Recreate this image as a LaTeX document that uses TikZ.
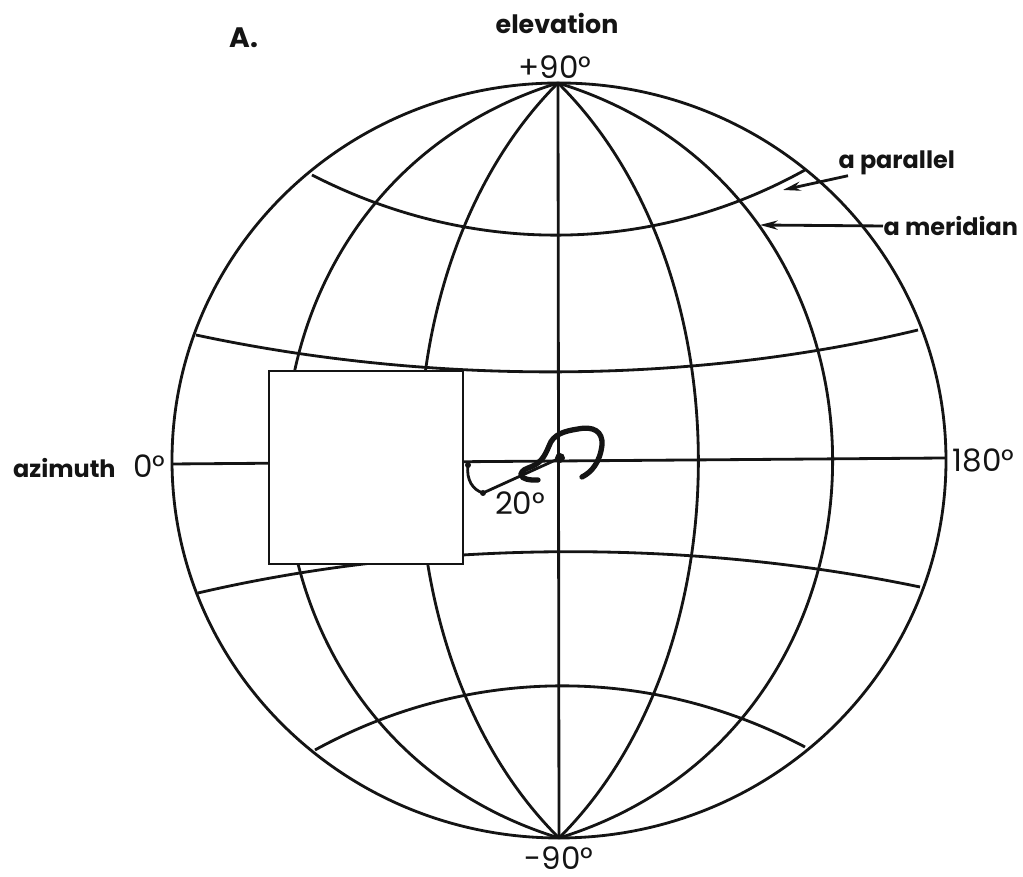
\documentclass[tikz,border=0pt]{standalone}
\usepackage{fontspec}
\setmainfont{Poppins}
\usepackage{xcolor}
\usetikzlibrary{arrows.meta,positioning}
\definecolor{inkblack}{RGB}{20,20,20}

\begin{document}
\begin{tikzpicture}[
  x=0.01cm, y=-0.01cm,
  every node/.style={inner sep=0pt, text=inkblack},
  grid/.style={draw=inkblack, line width=0.8pt},
  lead/.style={draw=inkblack, line width=0.8pt, -{Stealth[length=5pt,width=2.6pt]}},
  squiggle/.style={draw=inkblack, line width=1.5pt, line cap=round},
  word/.style={font=\fontsize{6.8}{8}\selectfont\bfseries},
  figure/.style={font=\fontsize{8.8}{10}\selectfont},
]
  \useasboundingbox (0,0) rectangle (1023,877);
  \coordinate (np) at (558,83);
  \coordinate (sp) at (559,838);

  % outline and meridians
  \draw[grid] (559,460.5) ellipse [x radius=387, y radius=377.5];
  \foreach \dx/\dy in {186/185,365/112} {
    \draw[grid] (np) .. controls (559+\dx,83+\dy) and (559+\dx,838-\dy) .. (sp);
    \draw[grid] (np) .. controls (559-\dx,83+\dy) and (559-\dx,838-\dy) .. (sp);
  }
  \draw[grid] (np) -- (sp);
  \draw[grid] (172,464) -- (946,458);

  % parallels
  \draw[grid] (312,175) .. controls (470,256) and (650,256) .. (805,170);
  \draw[grid] (196,335) .. controls (430,385) and (690,385) .. (918,330);
  \draw[grid] (198,593) .. controls (430,539) and (690,539) .. (920,587);
  \draw[grid] (315,750) .. controls (470,665) and (650,665) .. (805,747);

  % blanked patch
  \node[draw=inkblack, fill=white, line width=0.8pt, minimum width=1.94cm, minimum height=1.93cm] (patch) at (366,467.5) {};

  % trace
  \coordinate (fix) at (560,458);
  \coordinate (bend) at (483,493);
  \coordinate (edge) at (468,465);
  \draw[squiggle] (582,477) .. controls (592,472) and (600,462) .. (602,445)
    .. controls (603,431) and (593,426) .. (578,429)
    .. controls (565,431) and (553,434) .. (549,446)
    .. controls (544,458) and (540,464) .. (528,468)
    .. controls (517,472) and (518,481) .. (538,480);
  \draw[draw=inkblack, line width=0.8pt] (fix) -- (bend) .. controls (473,490) and (466,480) .. (edge);
  \fill[inkblack] (fix) circle [radius=5];
  \fill[inkblack] (bend) circle [radius=3];
  \fill[inkblack] (edge) circle [radius=3];

  % labels
  \node[font=\fontsize{8}{10}\selectfont\bfseries] (panel) at (244,38) {A.};
  \node[word, font=\fontsize{7.2}{8}\selectfont\bfseries] (elev) at (557,23) {elevation};
  \node[figure] (north) at (555,67) {+90°};
  \node[figure] (south) at (559,858) {-90°};
  \node[word, anchor=east] (azim) at (166,466) {azimuth\hspace{5pt}{\fontsize{8.8}{10}\selectfont\mdseries 0°}};
  \node[figure, anchor=west] (far) at (952,460) {180°};
  \node[figure] (twenty) at (520,503) {20°};
  \node[word, anchor=west] (par) at (838,163) {a parallel};
  \node[word, anchor=west] (mer) at (883,226) {a meridian};

  % pointers
  \coordinate (partip) at (783,190);
  \coordinate (mertip) at (760,225);
  \draw[lead] (par.south west) ++(10,0) -- (partip);
  \draw[lead] (mer.west) -- (mertip);
\end{tikzpicture}
\end{document}
